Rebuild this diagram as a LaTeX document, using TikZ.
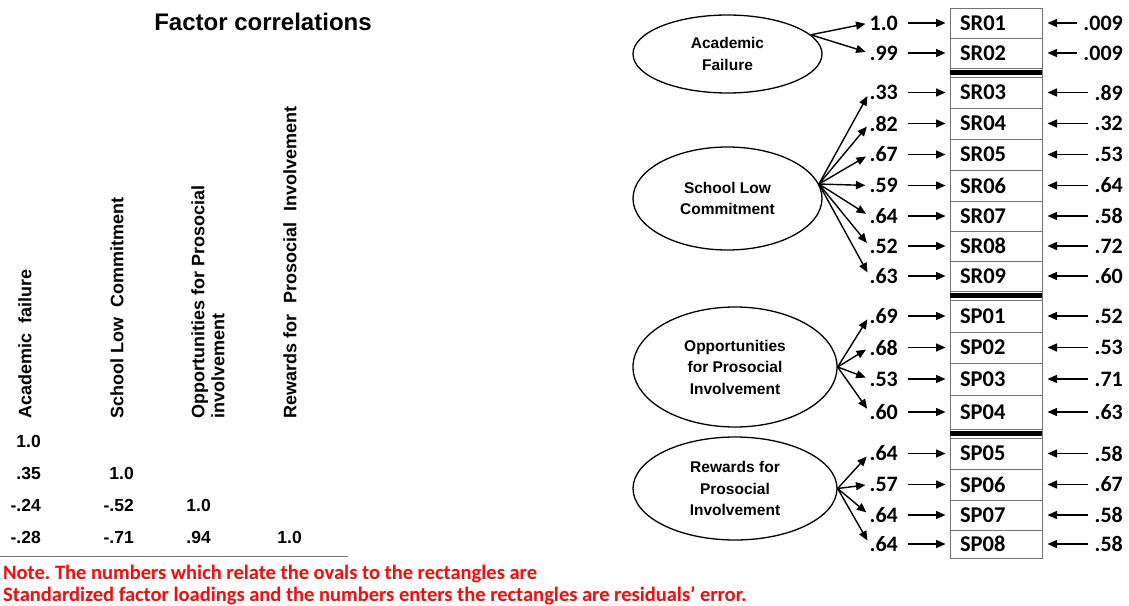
\documentclass[tikz,border=0pt]{standalone}
\usepackage{fontspec}
\setmainfont{Liberation Sans}
\newfontfamily\carl{Carlito}
\usetikzlibrary{shapes.geometric,arrows.meta}
\definecolor{notered}{RGB}{250,10,10}
\definecolor{boxgray}{RGB}{115,115,115}
\frenchspacing
\begin{document}
\begin{tikzpicture}[x=1pt,y=-1pt,
  factor/.style={ellipse,draw,line width=1.3pt,inner sep=0pt,align=center,font=\fontsize{15.5}{21.5}\selectfont\bfseries},
  item/.style={rectangle,draw=boxgray,line width=1pt,text width=72pt,inner xsep=10pt,inner ysep=0pt,align=left,font=\carl\fontsize{22.5}{24}\selectfont\bfseries},
  bar/.style={rectangle,fill=black,minimum width=92pt,minimum height=5pt,inner sep=0pt},
  load/.style={anchor=east,inner sep=0pt,font=\carl\fontsize{22}{24}\selectfont\bfseries},
  res/.style={anchor=east,inner sep=0pt,font=\carl\fontsize{22}{24}\selectfont\bfseries},
  arr/.style={line width=1.4pt,-{Triangle[length=9.5pt,width=8pt]}},
  hdr/.style={rotate=90,anchor=west,inner sep=0pt,align=left,font=\fontsize{18}{20}\selectfont\bfseries},
  num/.style={anchor=east,inner sep=0pt,font=\fontsize{17.5}{20}\selectfont\bfseries},
  note/.style={anchor=base west,inner sep=0pt,text=notered,font=\carl\fontsize{20.5}{22}\selectfont\bfseries}
]
\path[use as bounding box,fill=white] (0,0) rectangle (1129,605);

% ---------- left: factor correlations ----------
\node[font=\fontsize{24}{28}\selectfont\bfseries] (title) at (263,22) {Factor correlations};
\node[hdr] (h1) at (25,419) {Academic\ \ failure};
\node[hdr] (h2) at (117,419) {School Low\ \ Commitment};
\node[hdr] (h3) at (208,419) {Opportunities for Prosocial\\involvement};
\node[hdr] (h4) at (290,419) {Rewards for\hspace{11pt}Prosocial\hspace{11pt}Involvement};

\node[num] (c11) at (41,441) {1.0};
\node[num] (c21) at (41,473) {.35};
\node[num] (c22) at (134,473) {1.0};
\node[num] (c31) at (41,505) {-.24};
\node[num] (c32) at (134,505) {-.52};
\node[num] (c33) at (211,505) {1.0};
\node[num] (c41) at (41,537) {-.28};
\node[num] (c42) at (134,537) {-.71};
\node[num] (c43) at (211,537) {.94};
\node[num] (c44) at (302,537) {1.0};

\draw[boxgray,line width=1pt] (0,556) -- (348,556);

\node[note] (n1) at (3,579) {Note. The numbers which relate the ovals to the rectangles are};
\node[note] (n2) at (3,601) {Standardized factor loadings and the numbers enters the rectangles are residuals’ error.};

% ---------- right: measurement model ----------
\draw[boxgray,line width=1pt] (950,8) rectangle (1042,558);

\foreach \n/\t/\y/\h/\ld/\rs in {
  sra/SR01/23/30/1.0/.009, srb/SR02/53/30/.99/.009,
  src/SR03/92.5/31/.33/.89, srd/SR04/123.5/31/.82/.32, sre/SR05/154.5/31/.67/.53,
  srf/SR06/185.5/31/.59/.64, srg/SR07/216/30/.64/.58, srh/SR08/246/30/.52/.72,
  sri/SR09/276/30/.63/.60,
  spa/SP01/316/32/.69/.52, spb/SP02/347.5/31/.68/.53, spc/SP03/379/32/.53/.71,
  spd/SP04/412/34/.60/.63,
  spe/SP05/453.5/31/.64/.58, spf/SP06/484.5/31/.57/.67, spg/SP07/515/30/.64/.58,
  sph/SP08/544/28/.64/.58}{
  \node[item,minimum height=\h pt] (\n) at (996,\y) {\t};
  \node[load] (l\n) at (898,\y) {\ld};
  \node[res] (r\n) at (1123,\y) {\rs};
  \draw[arr,shorten <=10pt,shorten >=4pt] (l\n.east) -- (l\n.east -| \n.west);
  \draw[arr,shorten <=6pt,shorten >=5pt] (r\n.west) -- (r\n.west -| \n.east);
}

\node[bar] (bar1) at (996,72.5) {};
\node[bar] (bar2) at (996,295.5) {};
\node[bar] (bar3) at (996,433.5) {};

\node[factor,minimum width=189pt,minimum height=78pt] (af) at (727.5,54) {Academic\\Failure};
\node[factor,minimum width=189pt,minimum height=103pt] (slc) at (727.5,198.5) {School Low\\Commitment};
\node[factor,minimum width=204pt,minimum height=120pt] (opi) at (735,367) {Opportunities\\for Prosocial\\Involvement};
\node[factor,minimum width=204pt,minimum height=103pt] (rpi) at (735,488.5) {Rewards for\\Prosocial\\Involvement};

\foreach \n in {sra,srb} \draw[arr,shorten >=4pt] (af.13) -- (l\n.west);
\foreach \n in {src,srd,sre,srf,srg,srh,sri} \draw[arr,shorten >=4pt] (slc.9) -- (l\n.west);
\foreach \n in {spa,spb,spc,spd} \draw[arr,shorten >=4pt] (opi.0) -- (l\n.west);
\foreach \n in {spe,spf,spg,sph} \draw[arr,shorten >=4pt] (rpi.0) -- (l\n.west);
\end{tikzpicture}
\end{document}
